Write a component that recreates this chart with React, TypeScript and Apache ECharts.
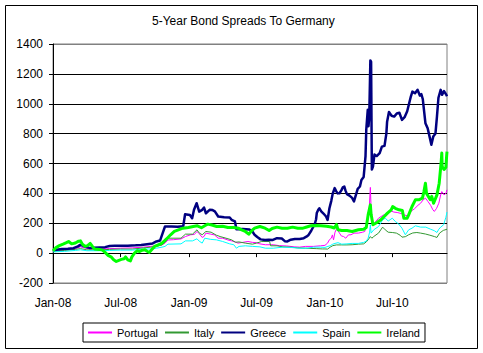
import React, { useEffect, useRef } from "react";
import * as echarts from "echarts";

type Pt = [string, number];

const title = "5-Year Bond Spreads To Germany";
const startDate = "2008-01-01";
const endDate = "2010-11-25";
const tickDates = ["2008-01-01", "2008-07-01", "2009-01-01", "2009-07-01", "2010-01-01", "2010-07-01"];
const tickLabels = ["Jan-08", "Jul-08", "Jan-09", "Jul-09", "Jan-10", "Jul-10"];
const yMin = -200;
const yMax = 1400;
const yStep = 200;

const portugal: Pt[] = [
  ["2008-01-01", 15], ["2008-01-20", 20], ["2008-02-10", 22], ["2008-03-01", 30], ["2008-03-15", 42], ["2008-03-25", 35],
  ["2008-04-10", 28], ["2008-05-01", 28], ["2008-06-01", 30], ["2008-07-01", 33], ["2008-08-01", 35], ["2008-09-01", 40],
  ["2008-09-20", 45], ["2008-10-05", 50], ["2008-10-20", 55], ["2008-10-28", 67], ["2008-11-05", 88], ["2008-11-20", 90],
  ["2008-12-10", 95], ["2008-12-22", 111], ["2009-01-05", 123], ["2009-01-15", 125], ["2009-01-22", 145], ["2009-01-28", 130],
  ["2009-02-05", 105], ["2009-02-10", 112], ["2009-02-15", 134], ["2009-02-28", 127], ["2009-03-10", 122], ["2009-03-20", 100],
  ["2009-04-01", 100], ["2009-04-15", 88], ["2009-04-25", 82], ["2009-05-05", 75], ["2009-05-12", 67], ["2009-05-25", 72],
  ["2009-06-08", 78], ["2009-06-20", 72], ["2009-07-01", 70], ["2009-07-10", 62], ["2009-07-25", 56], ["2009-08-15", 56],
  ["2009-09-01", 50], ["2009-09-20", 48], ["2009-10-10", 42], ["2009-10-25", 40], ["2009-11-10", 45], ["2009-12-01", 45],
  ["2009-12-20", 49], ["2010-01-01", 52], ["2010-01-08", 67], ["2010-01-13", 90], ["2010-01-18", 100], ["2010-01-21", 122],
  ["2010-01-24", 89], ["2010-01-28", 140], ["2010-02-02", 167], ["2010-02-05", 150], ["2010-02-09", 134], ["2010-02-14", 115],
  ["2010-02-20", 111], ["2010-02-26", 100], ["2010-03-05", 122], ["2010-03-12", 123], ["2010-03-20", 134], ["2010-04-01", 134],
  ["2010-04-12", 140], ["2010-04-18", 145], ["2010-04-22", 180], ["2010-04-27", 250], ["2010-04-30", 300], ["2010-05-03", 440],
  ["2010-05-05", 300], ["2010-05-07", 201], ["2010-05-14", 201], ["2010-05-25", 234], ["2010-06-08", 256], ["2010-06-15", 250],
  ["2010-06-25", 285], ["2010-07-05", 275], ["2010-07-14", 272], ["2010-07-25", 265], ["2010-08-02", 256], ["2010-08-10", 250],
  ["2010-08-20", 279], ["2010-08-30", 298], ["2010-09-08", 320], ["2010-09-15", 334], ["2010-09-22", 357], ["2010-09-28", 368],
  ["2010-10-05", 345], ["2010-10-12", 320], ["2010-10-18", 290], ["2010-10-22", 279], ["2010-10-28", 300], ["2010-11-03", 334],
  ["2010-11-08", 390], ["2010-11-11", 412], ["2010-11-17", 390], ["2010-11-22", 400], ["2010-11-25", 424],
];

const italy: Pt[] = [
  ["2008-01-01", 12], ["2008-02-01", 18], ["2008-03-01", 25], ["2008-03-15", 30], ["2008-04-01", 22], ["2008-05-01", 20],
  ["2008-06-01", 25], ["2008-07-01", 27], ["2008-08-01", 27], ["2008-09-01", 35], ["2008-09-20", 40], ["2008-10-05", 45],
  ["2008-10-20", 55], ["2008-10-28", 73], ["2008-11-05", 100], ["2008-12-10", 100], ["2008-12-22", 127], ["2009-01-10", 127],
  ["2009-01-22", 156], ["2009-01-28", 135], ["2009-02-05", 123], ["2009-02-15", 145], ["2009-03-01", 140], ["2009-03-15", 120],
  ["2009-03-25", 111], ["2009-04-10", 100], ["2009-04-25", 89], ["2009-05-05", 73], ["2009-05-15", 75], ["2009-06-01", 67],
  ["2009-06-20", 60], ["2009-07-01", 67], ["2009-07-15", 78], ["2009-08-05", 78], ["2009-08-08", 49], ["2009-08-25", 49],
  ["2009-09-10", 42], ["2009-10-01", 40], ["2009-10-20", 35], ["2009-11-10", 33], ["2009-12-10", 30], ["2009-12-25", 28],
  ["2010-01-01", 28], ["2010-01-08", 27], ["2010-01-15", 40], ["2010-01-22", 50], ["2010-02-01", 55], ["2010-02-15", 55],
  ["2010-03-01", 55], ["2010-03-15", 56], ["2010-04-01", 60], ["2010-04-15", 62], ["2010-04-22", 75], ["2010-04-27", 89],
  ["2010-05-03", 111], ["2010-05-07", 100], ["2010-05-12", 111], ["2010-05-25", 134], ["2010-06-05", 174], ["2010-06-12", 156],
  ["2010-06-20", 140], ["2010-07-01", 138], ["2010-07-12", 134], ["2010-07-22", 120], ["2010-07-27", 107], ["2010-08-05", 110],
  ["2010-08-14", 123], ["2010-08-25", 135], ["2010-09-05", 138], ["2010-09-15", 134], ["2010-09-28", 128], ["2010-10-10", 120],
  ["2010-10-22", 111], ["2010-10-29", 105], ["2010-11-05", 134], ["2010-11-15", 152], ["2010-11-25", 160],
];

const greece: Pt[] = [
  ["2008-01-01", 15], ["2008-01-10", 22], ["2008-01-25", 28], ["2008-02-10", 30], ["2008-02-25", 33], ["2008-03-08", 45],
  ["2008-03-14", 55], ["2008-03-20", 52], ["2008-03-28", 42], ["2008-04-08", 35], ["2008-04-20", 36], ["2008-05-05", 38],
  ["2008-05-20", 40], ["2008-06-01", 48], ["2008-06-15", 50], ["2008-07-01", 50], ["2008-07-20", 50], ["2008-08-10", 52],
  ["2008-08-25", 55], ["2008-09-10", 60], ["2008-09-25", 65], ["2008-10-05", 78], ["2008-10-15", 85], ["2008-10-22", 136],
  ["2008-10-28", 178], ["2008-11-15", 178], ["2008-12-01", 176], ["2008-12-16", 180], ["2008-12-21", 260], ["2009-01-03", 255],
  ["2009-01-09", 234], ["2009-01-14", 290], ["2009-01-21", 334], ["2009-01-28", 278], ["2009-02-05", 290], ["2009-02-10", 305],
  ["2009-02-15", 267], ["2009-02-25", 290], ["2009-03-05", 288], ["2009-03-11", 280], ["2009-03-20", 245], ["2009-04-05", 240],
  ["2009-04-20", 238], ["2009-04-25", 223], ["2009-05-04", 212], ["2009-05-08", 160], ["2009-05-25", 162], ["2009-06-12", 158],
  ["2009-06-20", 145], ["2009-06-25", 125], ["2009-07-03", 108], ["2009-07-12", 92], ["2009-07-24", 88], ["2009-08-03", 90],
  ["2009-08-14", 88], ["2009-08-25", 100], ["2009-09-07", 98], ["2009-09-15", 80], ["2009-09-22", 78], ["2009-10-01", 90],
  ["2009-10-12", 94], ["2009-10-25", 94], ["2009-11-05", 100], ["2009-11-12", 110], ["2009-11-18", 122], ["2009-11-25", 150],
  ["2009-12-01", 178], ["2009-12-04", 190], ["2009-12-08", 225], ["2009-12-10", 268], ["2009-12-14", 290], ["2009-12-17", 300],
  ["2009-12-22", 280], ["2009-12-28", 265], ["2010-01-04", 245], ["2010-01-08", 222], ["2010-01-13", 300], ["2010-01-18", 350],
  ["2010-01-22", 400], ["2010-01-27", 435], ["2010-01-31", 415], ["2010-02-04", 400], ["2010-02-09", 401], ["2010-02-14", 420],
  ["2010-02-18", 440], ["2010-02-22", 446], ["2010-02-25", 420], ["2010-03-01", 395], ["2010-03-08", 385], ["2010-03-15", 370],
  ["2010-03-20", 346], ["2010-03-24", 380], ["2010-03-30", 430], ["2010-04-05", 446], ["2010-04-09", 490], ["2010-04-15", 510],
  ["2010-04-20", 650], ["2010-04-22", 825], ["2010-04-26", 959], ["2010-04-28", 850], ["2010-04-30", 910], ["2010-05-03", 1290],
  ["2010-05-05", 1280], ["2010-05-07", 560], ["2010-05-10", 580], ["2010-05-14", 660], ["2010-05-20", 650], ["2010-05-28", 670],
  ["2010-06-03", 713], ["2010-06-10", 718], ["2010-06-15", 800], ["2010-06-17", 880], ["2010-06-22", 945], ["2010-06-29", 920],
  ["2010-07-06", 914], ["2010-07-13", 935], ["2010-07-20", 940], ["2010-07-27", 892], ["2010-08-03", 910], ["2010-08-10", 950],
  ["2010-08-16", 1010], ["2010-08-20", 1050], ["2010-08-24", 1081], ["2010-08-31", 1070], ["2010-09-07", 1093], ["2010-09-13", 1055],
  ["2010-09-17", 1065], ["2010-09-21", 1030], ["2010-09-24", 960], ["2010-09-28", 870], ["2010-10-04", 836], ["2010-10-11", 760],
  ["2010-10-14", 725], ["2010-10-19", 780], ["2010-10-25", 800], ["2010-10-29", 914], ["2010-11-02", 1040], ["2010-11-08", 1093],
  ["2010-11-12", 1060], ["2010-11-17", 1085], ["2010-11-22", 1065], ["2010-11-25", 1050],
];

const spain: Pt[] = [
  ["2008-01-01", 8], ["2008-02-01", 12], ["2008-03-01", 18], ["2008-03-15", 22], ["2008-04-01", 16], ["2008-05-01", 16],
  ["2008-06-01", 18], ["2008-07-01", 20], ["2008-08-01", 20], ["2008-09-01", 27], ["2008-09-20", 28], ["2008-10-05", 33],
  ["2008-10-20", 40], ["2008-10-28", 45], ["2008-11-05", 60], ["2008-12-10", 62], ["2008-12-22", 82], ["2009-01-10", 82],
  ["2009-01-22", 96], ["2009-01-28", 80], ["2009-02-05", 67], ["2009-02-12", 100], ["2009-02-28", 92], ["2009-03-15", 89],
  ["2009-04-01", 78], ["2009-04-20", 62], ["2009-05-01", 56], ["2009-05-08", 33], ["2009-05-15", 45], ["2009-06-01", 49],
  ["2009-06-20", 45], ["2009-07-10", 42], ["2009-07-25", 33], ["2009-08-15", 33], ["2009-09-10", 40], ["2009-10-01", 38],
  ["2009-10-25", 33], ["2009-11-15", 33], ["2009-12-01", 40], ["2009-12-20", 40], ["2010-01-01", 38], ["2010-01-15", 50],
  ["2010-01-22", 60], ["2010-01-28", 65], ["2010-02-05", 70], ["2010-02-15", 60], ["2010-03-01", 62], ["2010-03-15", 65],
  ["2010-04-01", 65], ["2010-04-15", 72], ["2010-04-22", 80], ["2010-04-27", 100], ["2010-05-01", 140], ["2010-05-03", 190],
  ["2010-05-05", 134], ["2010-05-12", 156], ["2010-05-25", 178], ["2010-06-05", 223], ["2010-06-12", 234], ["2010-06-20", 215],
  ["2010-07-01", 234], ["2010-07-09", 212], ["2010-07-18", 195], ["2010-07-27", 167], ["2010-08-05", 123], ["2010-08-14", 156],
  ["2010-08-23", 167], ["2010-09-01", 183], ["2010-09-15", 174], ["2010-09-29", 174], ["2010-10-12", 160], ["2010-10-22", 150],
  ["2010-10-29", 138], ["2010-11-03", 160], ["2010-11-08", 174], ["2010-11-16", 190], ["2010-11-22", 240], ["2010-11-25", 275],
];

const ireland: Pt[] = [
  ["2008-01-01", 15], ["2008-01-08", 35], ["2008-01-18", 50], ["2008-01-28", 60], ["2008-02-06", 70], ["2008-02-12", 78],
  ["2008-02-20", 62], ["2008-03-01", 68], ["2008-03-10", 80], ["2008-03-15", 82], ["2008-03-20", 60], ["2008-03-27", 45],
  ["2008-04-03", 50], ["2008-04-10", 65], ["2008-04-16", 45], ["2008-04-22", 28], ["2008-05-05", 25], ["2008-05-13", 20],
  ["2008-05-20", 5], ["2008-05-28", -15], ["2008-06-05", -25], ["2008-06-12", -45], ["2008-06-19", -56], ["2008-06-26", -48],
  ["2008-07-03", -42], ["2008-07-10", -38], ["2008-07-14", -25], ["2008-07-20", -45], ["2008-07-27", -52], ["2008-07-31", -25],
  ["2008-08-07", 0], ["2008-08-14", 16], ["2008-08-21", 11], ["2008-08-28", 20], ["2008-09-04", 22], ["2008-09-11", 11],
  ["2008-09-16", 5], ["2008-09-22", 22], ["2008-09-30", 45], ["2008-10-10", 56], ["2008-10-20", 67], ["2008-10-28", 85],
  ["2008-11-05", 105], ["2008-11-12", 123], ["2008-11-22", 145], ["2008-12-03", 156], ["2008-12-15", 167], ["2008-12-30", 172],
  ["2009-01-12", 178], ["2009-01-23", 183], ["2009-02-03", 170], ["2009-02-13", 185], ["2009-02-20", 194], ["2009-03-03", 188],
  ["2009-03-16", 178], ["2009-04-01", 180], ["2009-04-15", 172], ["2009-05-01", 172], ["2009-05-13", 167], ["2009-05-22", 156],
  ["2009-06-01", 145], ["2009-06-10", 127], ["2009-06-18", 150], ["2009-06-26", 167], ["2009-07-10", 178], ["2009-07-24", 167],
  ["2009-08-04", 151], ["2009-08-12", 165], ["2009-08-25", 174], ["2009-09-08", 167], ["2009-09-22", 167], ["2009-10-06", 174],
  ["2009-10-20", 167], ["2009-11-03", 167], ["2009-11-13", 175], ["2009-11-24", 183], ["2009-12-07", 185], ["2009-12-21", 183],
  ["2010-01-05", 180], ["2010-01-18", 175], ["2010-01-26", 168], ["2010-02-01", 192], ["2010-02-05", 156], ["2010-02-15", 151],
  ["2010-03-01", 151], ["2010-03-15", 145], ["2010-04-01", 156], ["2010-04-15", 160], ["2010-04-22", 172], ["2010-04-27", 256],
  ["2010-05-03", 323], ["2010-05-05", 260], ["2010-05-10", 190], ["2010-05-21", 205], ["2010-05-31", 223], ["2010-06-09", 245],
  ["2010-06-18", 268], ["2010-06-28", 290], ["2010-07-02", 312], ["2010-07-09", 300], ["2010-07-19", 290], ["2010-07-28", 285],
  ["2010-08-01", 234], ["2010-08-10", 234], ["2010-08-14", 256], ["2010-08-23", 312], ["2010-09-01", 357], ["2010-09-10", 357],
  ["2010-09-20", 368], ["2010-09-24", 412], ["2010-09-28", 468], ["2010-10-01", 400], ["2010-10-11", 357], ["2010-10-15", 380],
  ["2010-10-20", 334], ["2010-10-29", 390], ["2010-11-04", 468], ["2010-11-09", 600], ["2010-11-11", 670], ["2010-11-12", 580],
  ["2010-11-17", 560], ["2010-11-22", 575], ["2010-11-24", 650], ["2010-11-25", 680],
];

const seriesNames = ["Portugal", "Italy", "Greece", "Spain", "Ireland"];
const seriesData = [portugal, italy, greece, spain, ireland];
const seriesColors = ["#FF00FF", "#339933", "#000080", "#00FFFF", "#00FF00"];
const seriesWidths = [1, 1, 2.5, 1, 3];

const FONT = "'Liberation Sans', Arial, Helvetica, sans-serif";

function toDay(s: string): number {
  const [y, m, d] = s.split("-").map(Number);
  const [y0, m0, d0] = startDate.split("-").map(Number);
  return Math.round((Date.UTC(y, m - 1, d) - Date.UTC(y0, m0 - 1, d0)) / 86400000);
}

export default function App() {
  const ref = useRef<HTMLDivElement>(null);

  useEffect(() => {
    if (!ref.current) return;
    const chart = echarts.init(ref.current, null, { renderer: "svg" });
    const tickDays = tickDates.map(toDay);
    const maxDay = toDay(endDate);
    const labelFor = (v: number) => {
      const i = tickDays.indexOf(Math.round(v));
      return i >= 0 ? tickLabels[i] : "";
    };

    chart.setOption({
      animation: false,
      backgroundColor: "#ffffff",
      title: {
        text: title,
        left: 152,
        top: 15,
        padding: 0,
        textStyle: { fontFamily: FONT, fontSize: 12, fontWeight: "normal", color: "#000" },
      },
      legend: {
        data: seriesNames,
        left: 83,
        top: 323,
        orient: "horizontal",
        itemWidth: 24,
        itemHeight: 13,
        itemGap: 6,
        padding: [4, 5, 4, 4],
        borderColor: "#000",
        borderWidth: 1,
        itemStyle: { opacity: 0, borderWidth: 0 },
        textStyle: { fontFamily: FONT, fontSize: 11, color: "#000" },
      },
      graphic: [
        {
          type: "rect",
          shape: { x: 5.5, y: 5.5, width: 472, height: 343 },
          style: { fill: "none", stroke: "#000", lineWidth: 1 },
          silent: true,
          z: 100,
        },
      ],
      grid: {
        left: 53,
        top: 44,
        width: 394,
        height: 239,
        show: true,
        borderColor: "#808080",
        borderWidth: 1,
        backgroundColor: "#fff",
        containLabel: false,
      },
      xAxis: [
        {
          type: "value",
          min: 0,
          max: maxDay,
          position: "bottom",
          axisLine: { show: false, onZero: false },
          axisTick: { show: false },
          splitLine: { show: false },
          axisLabel: {
            customValues: tickDays,
            formatter: labelFor,
            margin: 14,
            fontFamily: FONT,
            fontSize: 12,
            color: "#000",
          },
        },
        {
          type: "value",
          min: 0,
          max: maxDay,
          position: "bottom",
          axisLine: { show: true, onZero: true, lineStyle: { color: "#000", width: 1 } },
          axisTick: { show: true, customValues: tickDays, length: 4, lineStyle: { color: "#000" } },
          axisLabel: { show: false },
          splitLine: { show: false },
        },
      ],
      yAxis: {
        type: "value",
        min: yMin,
        max: yMax,
        interval: yStep,
        axisLine: { show: true, lineStyle: { color: "#000", width: 1 } },
        axisTick: { show: true, length: 4, lineStyle: { color: "#000" } },
        axisLabel: {
          margin: 10,
          fontFamily: FONT,
          fontSize: 12,
          color: "#000",
          formatter: (v: number) => String(v),
        },
        splitLine: {
          show: true,
          lineStyle: {
            color: ["#808080", "#000", "#000", "#000", "#000", "#000", "#000", "#000", "#808080"],
            width: 1,
          },
        },
      },
      series: seriesNames.map((name, i) => ({
        name,
        type: "line",
        xAxisIndex: 0,
        yAxisIndex: 0,
        symbol: "none",
        showSymbol: false,
        smooth: false,
        lineStyle: { color: seriesColors[i], width: seriesWidths[i], join: "round" },
        itemStyle: { color: seriesColors[i] },
        emphasis: { disabled: true },
        data: seriesData[i].map(([d, v]) => [toDay(d), v]),
      })),
    });

    return () => chart.dispose();
  }, []);

  return (
    <div
      ref={ref}
      style={{ position: "absolute", left: 0, top: 0, width: 483, height: 353, background: "#fff" }}
    />
  );
}
